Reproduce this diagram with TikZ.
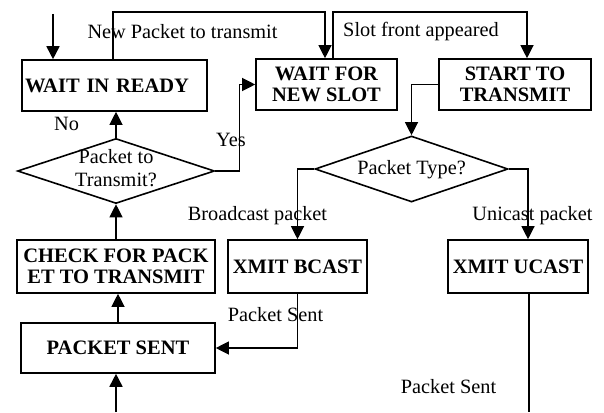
\documentclass[tikz,border=0pt]{standalone}
\usepackage{fontspec}
\setmainfont{Liberation Serif}
\usetikzlibrary{arrows.meta,shapes.geometric}
\begin{document}
\begin{tikzpicture}[x=1pt,y=-1pt,
  box/.style={draw,line width=1.6pt,inner sep=0pt,align=center,
    font=\fontsize{20.5}{21.5}\selectfont\bfseries},
  dia/.style={draw,shape=diamond,line width=1.6pt,inner sep=0pt},
  lbl/.style={inner sep=0pt,align=center,font=\fontsize{20.3}{23}\selectfont},
  arr/.style={line width=1.2pt,-{Triangle[length=13pt,width=13pt]}},
  ln/.style={line width=1.2pt},
  entry/.style={line width=1.7pt,-{Triangle[length=13pt,width=13pt]}}]
\useasboundingbox (0,0) rectangle (604,412);
% boxes
\node[box,minimum height=51pt,text width=179pt,inner xsep=3pt,align=left] (wr) at (114.5,85.5) {WAIT IN READY};
\node[box,minimum width=141pt,minimum height=51pt] (ws) at (326.5,84.5) {WAIT FOR\\NEW SLOT};
\node[box,minimum width=152pt,minimum height=51pt] (st) at (515,84.5) {START TO\\TRANSMIT};
\node[box,minimum width=198pt,minimum height=53pt] (ck) at (116,266.5) {CHECK FOR PACK\\ET TO TRANSMIT};
\node[box,minimum width=139pt,minimum height=53pt] (xb) at (297.5,266.5) {XMIT BCAST};
\node[box,minimum width=140pt,minimum height=53pt] (xu) at (518,266.5) {XMIT UCAST};
\node[box,minimum width=194pt,minimum height=50pt] (ps) at (118,348) {PACKET SENT};
% diamonds
\node[dia,minimum width=197pt,minimum height=65pt] (d1) at (116,171) {};
\node[lbl] (d1t) at (116,168.5) {Packet to\\Transmit?};
\node[dia,minimum width=193pt,minimum height=66pt] (d2) at (411.5,169) {};
\node[lbl] (d2t) at (411.5,170) {Packet Type?};
% coordinates
\coordinate (in1) at (53,14);
\coordinate (top) at (113,12);
\coordinate (b2) at (333,12);
\coordinate (in2) at (116,412);
\coordinate (out) at (529,412);
\coordinate (xr) at (528,169);
\coordinate (tr) at (527,12);
% connectors
\draw[entry] (in1) -- (in1 |- wr.north);
\draw[arr] (top |- wr.north) -- (top) -| ([xshift=-1.5pt]ws.north);
\draw[arr] (b2 |- ws.north) -- (b2) -| (tr |- st.north);
\draw[arr] (d1.north) -- (d1.north |- wr.south);
\draw[arr] (d1.east) -- ++(24,0) |- (ws.west);
\draw[arr] (ck.north) -- (d1.south);
\draw[arr] (ps.north) -- (ck.south -| ps.north);
\draw[entry] (in2) -- (in2 |- ps.south);
\draw[arr] (xb.south) |- (ps.east);
\draw[ln] (out |- xu.south) -- (out);
\draw[arr] (st.west) -| (d2.north);
\draw[arr] (d2.west) -| (xb.north);
\draw[arr] (d2.east) -| (xr |- xu.north);
% labels
\node[lbl] (l1) at (182.5,32) {New Packet to transmit};
\node[lbl] (l2) at (421,32) {Slot front appeared};
\node[lbl] (l3) at (66.5,124) {No};
\node[lbl] (l4) at (231,140) {Yes};
\node[lbl] (l5) at (257.5,216) {Broadcast packet};
\node[lbl] (l6) at (532.5,216) {Unicast packet};
\node[lbl] (l7) at (275.5,315) {Packet Sent};
\node[lbl] (l8) at (448.5,387) {Packet Sent};
\end{tikzpicture}
\end{document}
